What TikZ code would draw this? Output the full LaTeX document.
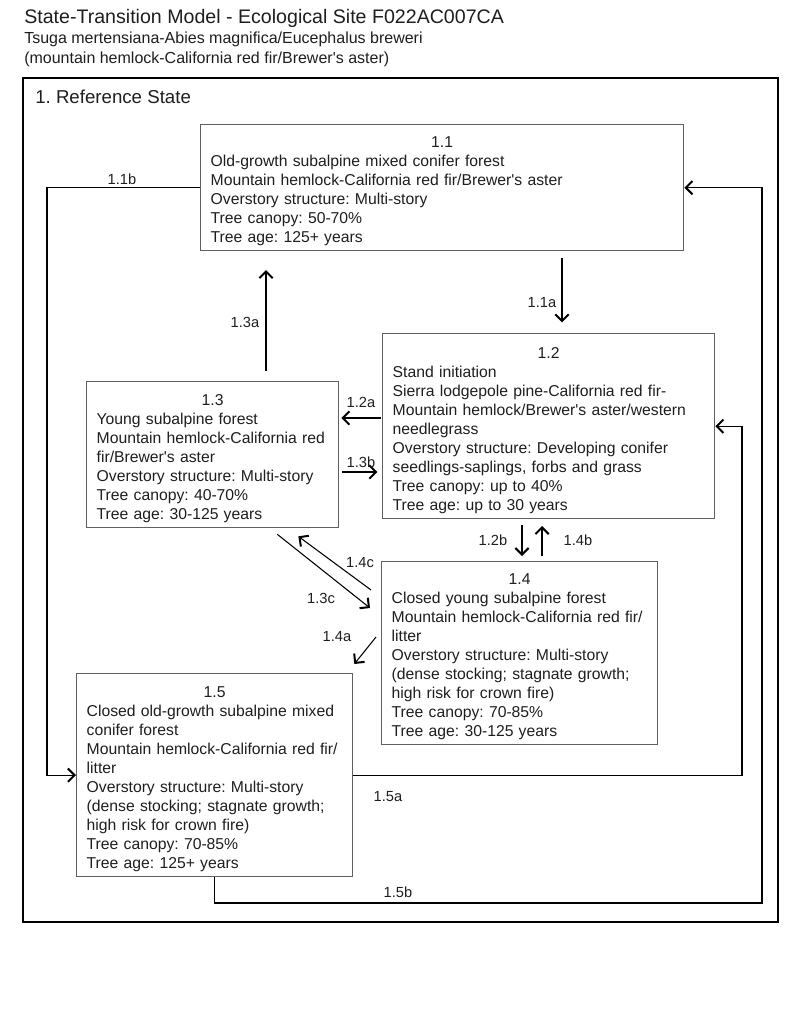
\documentclass[tikz,border=0pt]{standalone}
\usepackage{fontspec}
\setmainfont{Liberation Sans}[Ligatures=TeXOff]
\usetikzlibrary{arrows.meta,calc}

\definecolor{BoxLine}{HTML}{5F5F5F}
\definecolor{Ink}{HTML}{1E1E1E}

\begin{document}
\frenchspacing
\begin{tikzpicture}[x=0.75pt, y=-0.75pt,
  statebox/.style={draw=BoxLine, line width=1pt, anchor=north west, align=left,
    inner xsep=7.5pt, inner ysep=0pt, text=Ink, font=\fontsize{11.8}{14.25}\selectfont,
    execute at end node={\endgraf\vspace*{-6pt}}},
  trans/.style={line width=0.8pt, -{Straight Barb[length=5pt,width=10pt,line width=1.5pt]}},
  translabel/.style={text=Ink, inner sep=0pt, font=\fontsize{11}{13}\selectfont},
  titletext/.style={anchor=west, inner sep=0pt, text=Ink}]

 \useasboundingbox (0,0) rectangle (800,1028);

 %%%%%%%%%% Titles %%%%%%%%%%
 \node[titletext, font=\fontsize{14.7}{16}\selectfont] (title) at (24,18) {State-Transition Model - Ecological Site F022AC007CA};
 \node[titletext, font=\fontsize{12}{14}\selectfont] (latin) at (24,39) {Tsuga mertensiana-Abies magnifica/Eucephalus breweri};
 \node[titletext, font=\fontsize{12}{14}\selectfont] (common) at (24,59) {(mountain hemlock-California red fir/Brewer's aster)};

 %%%%%%%%%% Reference state frame %%%%%%%%%%
 \draw [line width=1.5pt] (23,78) rectangle (778,922);
 \node[titletext, font=\fontsize{14}{16}\selectfont] (refstate) at (35,97) {1. Reference State};

 %%%%%%%%%% Community phases %%%%%%%%%%
 \node[statebox, minimum width=362.25pt, minimum height=94.5pt, text width=347.25pt] (s11) at (200,124)
  {\hfill 1.1\hfill\null\\ Old-growth subalpine mixed conifer forest\\ Mountain hemlock-California red fir/Brewer's aster\\
   Overstory structure: Multi-story\\ Tree canopy: 50-70\%\\ Tree age: 125+ years};
 \node[statebox, minimum width=249pt, minimum height=138.75pt, text width=234pt] (s12) at (382,333)
  {\hfill 1.2\hfill\null\\ Stand initiation\\ Sierra lodgepole pine-California red fir-\\ Mountain hemlock/Brewer's aster/western\\
   needlegrass\\ Overstory structure: Developing conifer\\ seedlings-saplings, forbs and grass\\ Tree canopy: up to 40\%\\ Tree age: up to 30 years};
 \node[statebox, minimum width=189pt, minimum height=109.5pt, text width=174pt] (s13) at (86,381)
  {\hfill 1.3\hfill\null\\ Young subalpine forest\\ Mountain hemlock-California red\\ fir/Brewer's aster\\
   Overstory structure: Multi-story\\ Tree canopy: 40-70\%\\ Tree age: 30-125 years};
 \node[statebox, minimum width=207pt, minimum height=137.25pt, text width=192pt] (s14) at (381,561)
  {\hfill 1.4\hfill\null\\ Closed young subalpine forest\\ Mountain hemlock-California red fir/\\ litter\\
   Overstory structure: Multi-story\\ (dense stocking; stagnate growth;\\ high risk for crown fire)\\ Tree canopy: 70-85\%\\ Tree age: 30-125 years};
 \node[statebox, minimum width=207pt, minimum height=152.25pt, text width=192pt] (s15) at (76,673)
  {\hfill 1.5\hfill\null\\ Closed old-growth subalpine mixed\\ conifer forest\\ Mountain hemlock-California red fir/\\ litter\\
   Overstory structure: Multi-story\\ (dense stocking; stagnate growth;\\ high risk for crown fire)\\ Tree canopy: 70-85\%\\ Tree age: 125+ years};

 %%%%%%%%%% Lanes for the connectors %%%%%%%%%%
 \coordinate (lane11a) at (562,0);
 \coordinate (lane13a) at (266,0);
 \coordinate (lane12b) at (522,0);
 \coordinate (lane14b) at (542,0);
 \coordinate (lane12a) at (0,418);
 \coordinate (lane13b) at (0,472);
 \coordinate (loopL) at (47,775);
 \coordinate (loopBR) at (762,903);
 \coordinate (lane15a) at (742,426);

 %%%%%%%%%% Transitions %%%%%%%%%%
 \draw [trans, shorten <=5pt, shorten >=8pt] (s11.south -| lane11a) -- (s12.north -| lane11a);
 \draw [trans] (s11.west) -| (loopL) |- (s15.west);
 \draw [trans, shorten <=7.5pt, shorten >=14pt] (s13.north -| lane13a) -- (s11.south -| lane13a);
 \draw [trans, shorten <=1pt, shorten >=1.5pt] (s12.west |- lane12a) -- (s13.east |- lane12a);
 \draw [trans, shorten <=2pt, shorten >=3.5pt] (s13.east |- lane13b) -- (s12.west |- lane13b);
 \draw [trans, shorten <=4.5pt, shorten >=3.75pt] (s12.south -| lane12b) -- (s14.north -| lane12b);
 \draw [trans, shorten <=3.75pt, shorten >=5pt] (s14.north -| lane14b) -- (s12.south -| lane14b);
 \draw [trans] ($(s13.south east)+(-62,6)$) -- ($(s14.north west)+(-11,47)$);
 \draw [trans] ($(s14.north west)+(-10,29)$) -- ($(s13.south east)+(-41,8)$);
 \draw [trans] ($(s14.north west)+(-5,76)$) -- ($(s15.north east)+(1,-9)$);
 \draw [trans] (s15.east) -| (lane15a) |- (s12.east);
 \draw [trans] (s15.south) |- (loopBR) |- (s11.east);

 %%%%%%%%%% Transition labels %%%%%%%%%%
 \foreach \nm/\txt/\px/\py in {11a/1.1a/542/303, 11b/1.1b/122/179, 12a/1.2a/361/402, 12b/1.2b/493/540,
   13a/1.3a/245/322, 13b/1.3b/361/462, 13c/1.3c/321/598, 14a/1.4a/337/637,
   14b/1.4b/578/540, 14c/1.4c/360/563, 15a/1.5a/388/797, 15b/1.5b/398/892}
 {
   \node[translabel] (l\nm) at (\px,\py) {\txt};
 }

\end{tikzpicture}
\end{document}
